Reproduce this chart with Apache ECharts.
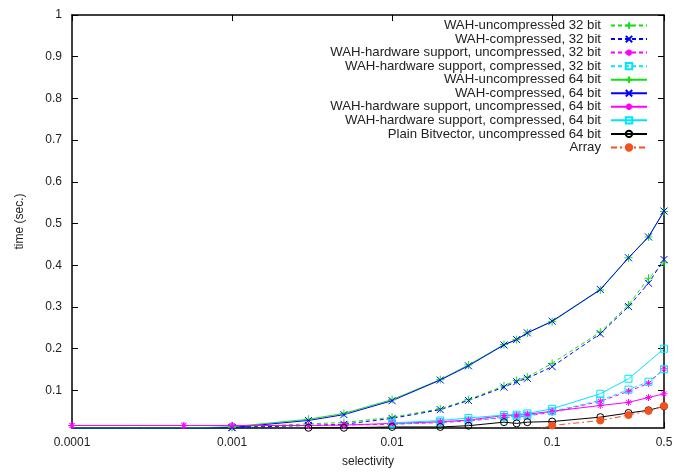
<!DOCTYPE html>
<html>
<head>
<meta charset="utf-8">
<script src="https://cdn.jsdelivr.net/npm/echarts@6/dist/echarts.min.js"></script>
<style>html,body{margin:0;padding:0;background:#fff}#c{width:684px;height:473px}</style>
</head>
<body>
<div id="c"></div>
<script>
var selectivity = [0.0001, 0.0005, 0.001, 0.003, 0.005, 0.01, 0.02, 0.03, 0.05, 0.06, 0.07, 0.1, 0.2, 0.3, 0.4, 0.5];
var xTickLabels = [0.0001, 0.001, 0.01, 0.1, 0.5];
var yTickLabels = [0.1, 0.2, 0.3, 0.4, 0.5, 0.6, 0.7, 0.8, 0.9, 1];

var wahUnc32  = [0.0092, 0.0092, 0.0115, 0.020, 0.023, 0.036, 0.056, 0.078, 0.111, 0.124, 0.132, 0.165, 0.240, 0.305, 0.369, 0.406];
var wahComp32 = [0.009, 0.009, 0.011, 0.016, 0.019, 0.033, 0.054, 0.076, 0.108, 0.121, 0.129, 0.157, 0.236, 0.301, 0.357, 0.414];
var hwUnc32   = [0.016, 0.016, 0.016, 0.016, 0.017, 0.019, 0.023, 0.027, 0.035, 0.037, 0.039, 0.048, 0.074, 0.098, 0.117, 0.152];
var hwComp32  = [null, null, null, null, null, 0.019, 0.024, 0.028, 0.036, 0.038, 0.040, 0.050, 0.076, 0.102, 0.121, 0.151];
var wahUnc64  = [0.0093, 0.0093, 0.013, 0.031, 0.045, 0.078, 0.126, 0.161, 0.210, 0.222, 0.238, 0.265, 0.341, 0.418, 0.468, 0.529];
var wahComp64 = [0.009, 0.009, 0.011, 0.028, 0.042, 0.0755, 0.125, 0.159, 0.209, 0.222, 0.238, 0.266, 0.342, 0.418, 0.468, 0.530];
var hwUnc64   = [0.016, 0.016, 0.016, 0.016, 0.017, 0.021, 0.025, 0.029, 0.040, 0.041, 0.043, 0.050, 0.064, 0.0715, 0.083, 0.092];
var hwComp64  = [null, null, null, null, null, 0.022, 0.028, 0.034, 0.041, 0.042, 0.045, 0.056, 0.092, 0.128, null, 0.200];
var plain64   = [null, null, null, 0.0105, 0.0105, 0.0125, 0.0125, 0.0155, 0.024, 0.021, 0.024, 0.0255, 0.036, 0.046, 0.0525, 0.062];
var arrayVals = [null, null, null, null, null, null, null, null, 0.002, 0.002, 0.002, 0.016, 0.028, 0.041, 0.051, 0.063];

var names = [
  'WAH-uncompressed 32 bit',
  'WAH-compressed, 32 bit',
  'WAH-hardware support, uncompressed, 32 bit',
  'WAH-hardware support, compressed, 32 bit',
  'WAH-uncompressed 64 bit',
  'WAH-compressed, 64 bit',
  'WAH-hardware support, uncompressed, 64 bit',
  'WAH-hardware support, compressed, 64 bit',
  'Plain Bitvector, uncompressed 64 bit',
  'Array'
];
var values = [wahUnc32, wahComp32, hwUnc32, hwComp32, wahUnc64, wahComp64, hwUnc64, hwComp64, plain64, arrayVals];

var PLUS = 'path://M5,0V10M0,5H10';
var CROSS = 'path://M0,0L10,10M10,0L0,10';
var STAR = 'path://M5,0V10M0,5H10M1.5,1.5L8.5,8.5M8.5,1.5L1.5,8.5';
var styles = [
  {c:'#11e011', s:PLUS, d:[4,3], sz:8, f:'none'},
  {c:'#0000ff', s:CROSS, d:[4,3], sz:7, f:'none'},
  {c:'#ff00ff', s:STAR, d:[4,3], sz:7, f:'none'},
  {c:'#00e5ff', s:'rect', d:[4,3], sz:7, f:'none'},
  {c:'#11e011', s:PLUS, d:'solid', sz:8, f:'none'},
  {c:'#0000ff', s:CROSS, d:'solid', sz:7, f:'none'},
  {c:'#ff00ff', s:STAR, d:'solid', sz:7, f:'none'},
  {c:'#00e5ff', s:'rect', d:'solid', sz:7, f:'none'},
  {c:'#000000', s:'circle', d:'solid', sz:7, f:'none'},
  {c:'#f4511e', s:'circle', d:[6,3,2,3], sz:7, f:'#f4511e'}
];

var series = names.map(function(n, i){
  var st = styles[i];
  var data = [];
  for (var k = 0; k < selectivity.length; k++) {
    if (values[i][k] != null) data.push([selectivity[k], values[i][k]]);
  }
  return {
    name: n, type: 'line', data: data, clip: true,
    symbol: st.s, symbolSize: st.sz, showAllSymbol: true,
    lineStyle: {color: st.c, width: 1, type: st.d},
    itemStyle: {color: st.f, borderColor: st.c, borderWidth: 1},
    emphasis: {disabled: true},
    animation: false
  };
});

var font = 'Liberation Sans, Arial, sans-serif';
var chart = echarts.init(document.getElementById('c'));
chart.setOption({
  backgroundColor: '#fff',
  animation: false,
  grid: {left: 72, right: 20, top: 15, bottom: 41, show: false},
  legend: {
    orient: 'vertical', align: 'right', right: 31, top: 14,
    itemWidth: 36, itemHeight: 8, itemGap: 0.55,
    textStyle: {fontFamily: font, fontSize: 13.2, lineHeight: 13, color: '#222', padding: [0, 5, 0, 0]},
    data: names
  },
  xAxis: [{
    type: 'log', logBase: 10, min: 0.0001, max: 0.5,
    name: 'selectivity', nameLocation: 'middle', nameGap: 28,
    nameTextStyle: {fontFamily: font, fontSize: 12, color: '#222'},
    axisLine: {show: true, lineStyle: {color: '#000', width: 1.5}},
    axisTick: {show: true, inside: true, length: 6, lineStyle: {color: '#000'}},
    minorTick: {show: false},
    splitLine: {show: false},
    axisLabel: {fontFamily: font, fontSize: 12, color: '#222', margin: 9,
      formatter: function(v){ return String(parseFloat(v.toPrecision(6))); }}
  }, {
    type: 'log', logBase: 10, min: 0.0001, max: 0.5, position: 'top',
    axisLine: {show: true, lineStyle: {color: '#000', width: 1.5}},
    axisTick: {show: true, inside: true, length: 6, lineStyle: {color: '#000'}},
    axisLabel: {show: false}, splitLine: {show: false}
  }],
  yAxis: [{
    type: 'value', min: 0.01, max: 1,
    name: 'time (sec.)', nameLocation: 'middle', nameGap: 46, nameRotate: 90,
    nameTextStyle: {fontFamily: font, fontSize: 12, color: '#222'},
    axisLine: {show: true, lineStyle: {color: '#000', width: 1.5}},
    axisTick: {show: true, inside: true, length: 6, lineStyle: {color: '#000'}, customValues: yTickLabels},
    splitLine: {show: false},
    axisLabel: {fontFamily: font, fontSize: 12, color: '#222', margin: 10, customValues: yTickLabels,
      formatter: function(v){ return String(parseFloat(v.toPrecision(6))); }}
  }, {
    type: 'value', min: 0.01, max: 1, position: 'right',
    axisLine: {show: true, lineStyle: {color: '#000', width: 1.5}},
    axisTick: {show: true, inside: true, length: 6, lineStyle: {color: '#000'}, customValues: yTickLabels},
    axisLabel: {show: false, customValues: yTickLabels}, splitLine: {show: false}
  }],
  series: series
});
</script>
</body>
</html>
